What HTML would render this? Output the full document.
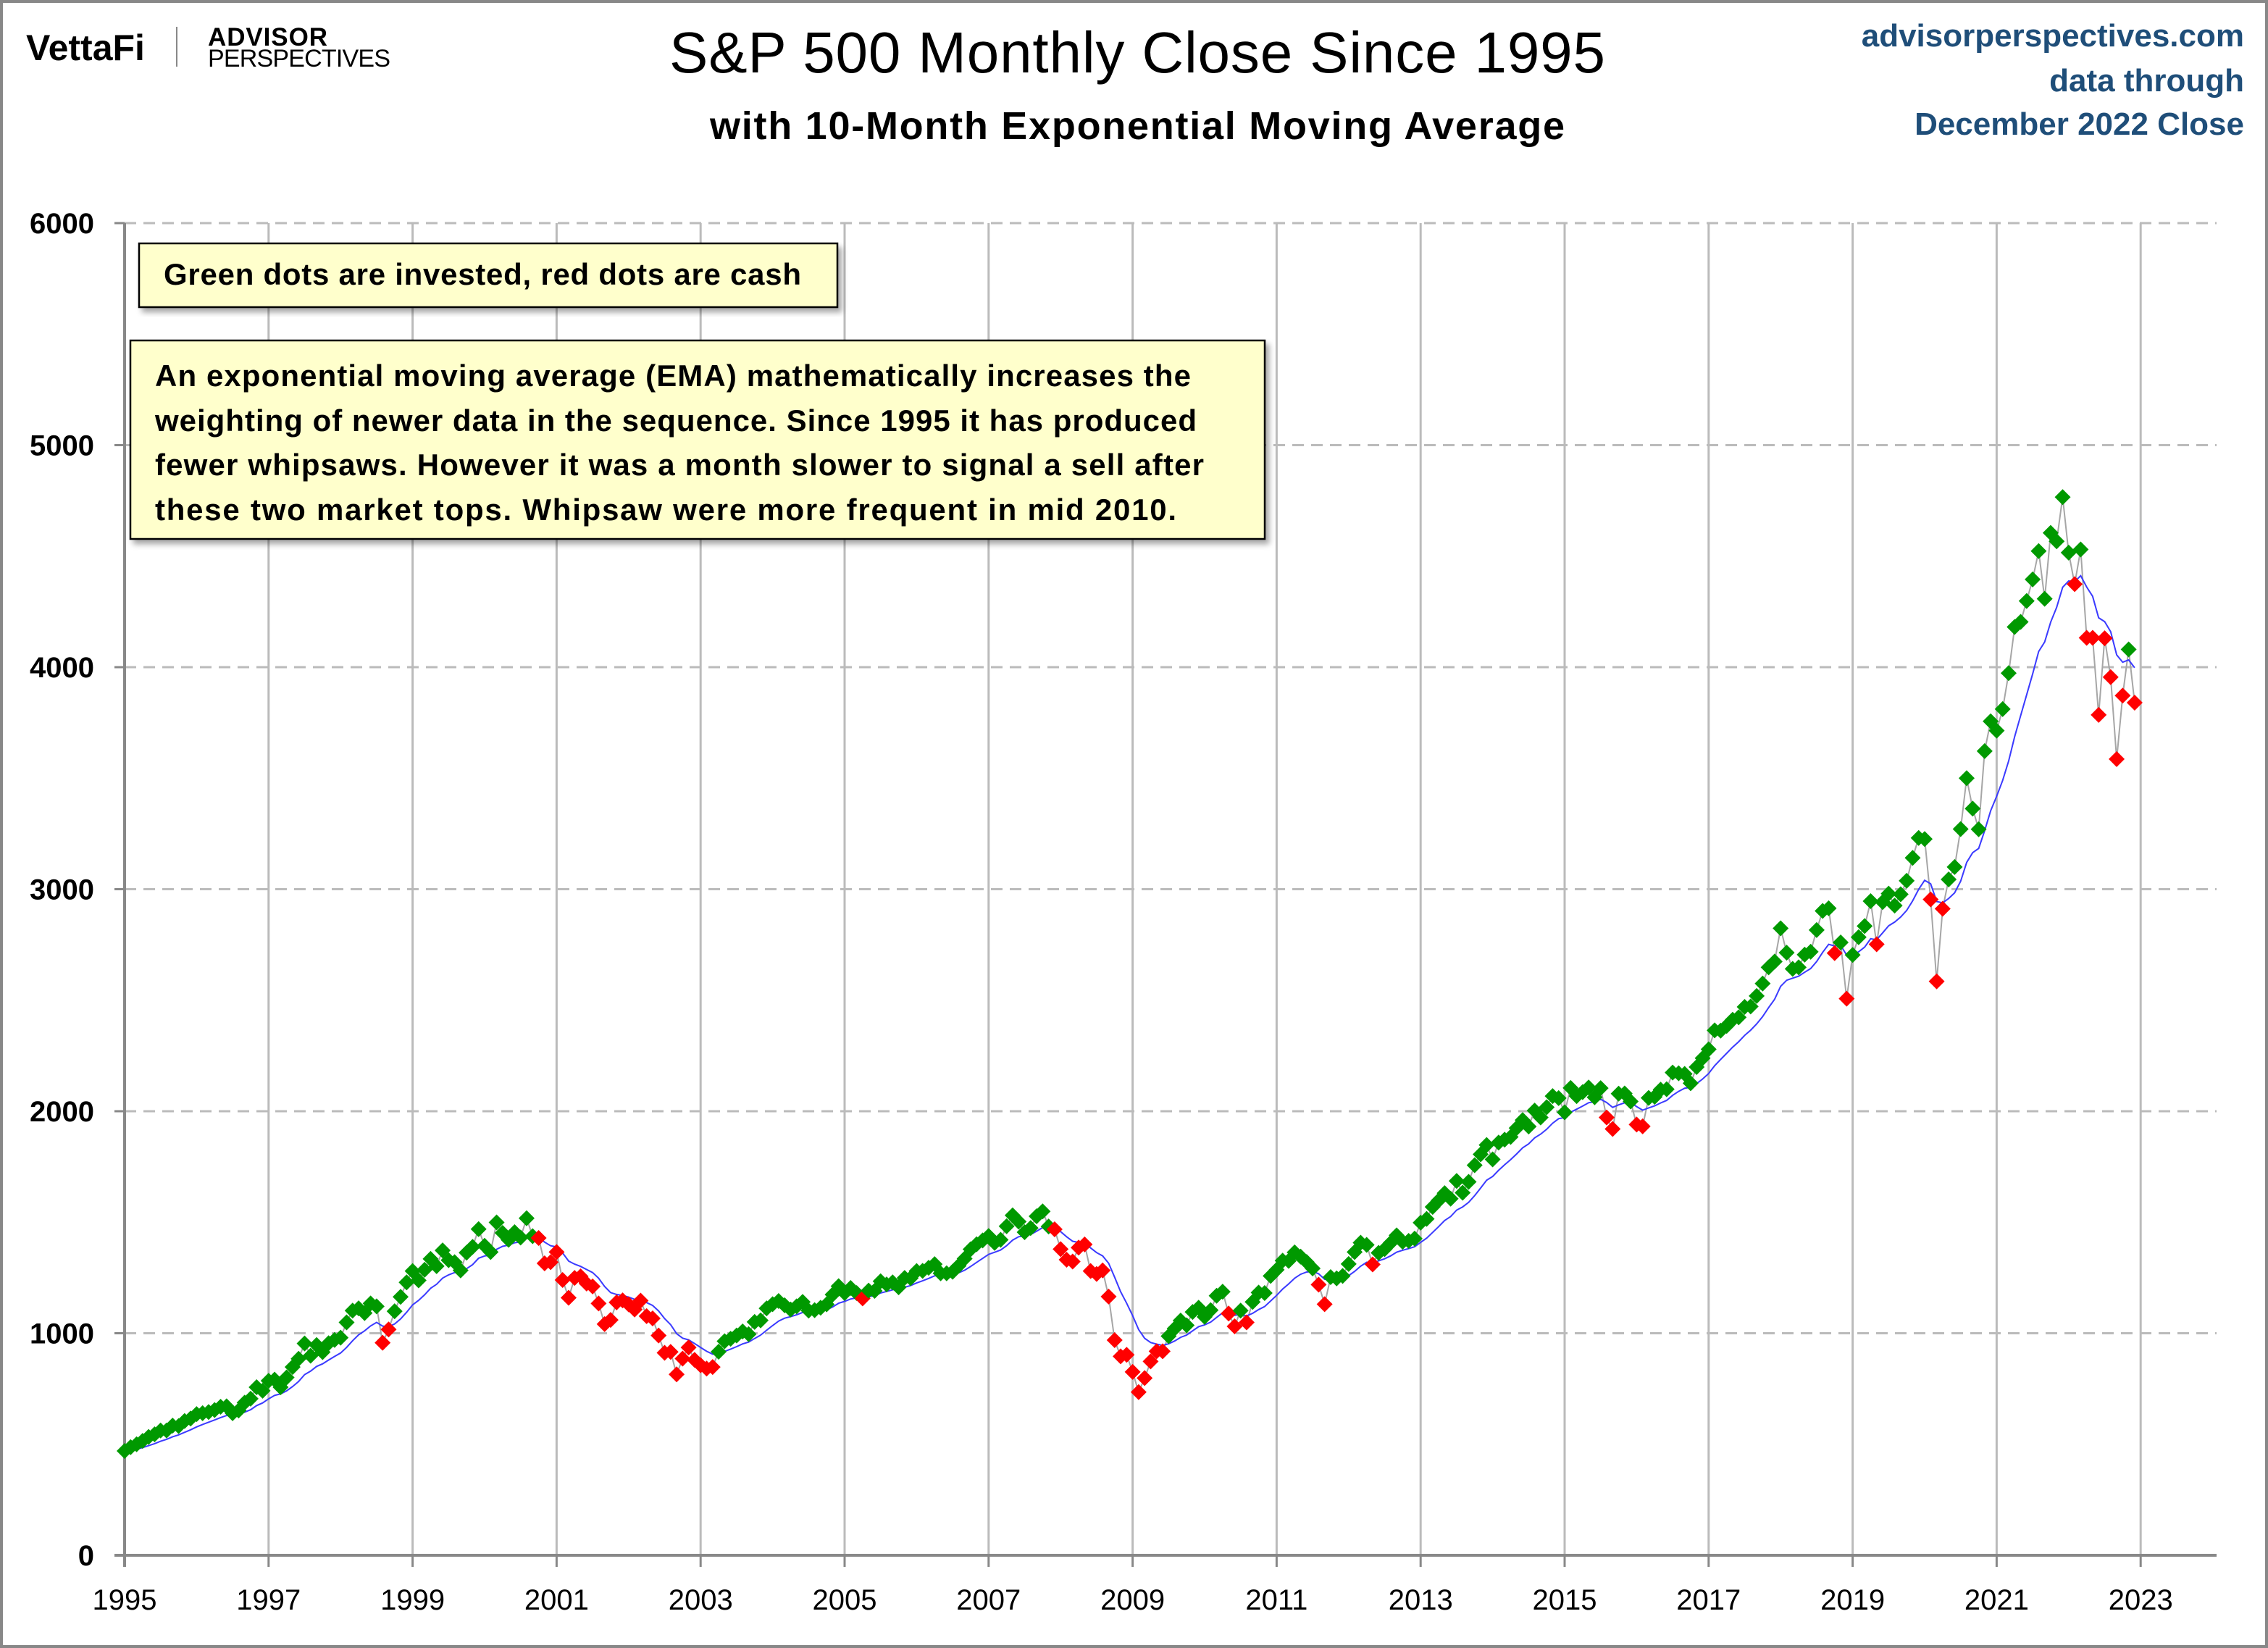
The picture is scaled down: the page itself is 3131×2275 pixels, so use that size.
<!DOCTYPE html>
<html><head><meta charset="utf-8"><style>
html,body{margin:0;padding:0;background:#fff}
svg{display:block}
text{font-family:"Liberation Sans",sans-serif}
</style></head><body>
<svg id="chart" width="3131" height="2275" viewBox="0 0 3131 2275">
<defs><filter id="sh" x="-5%" y="-5%" width="110%" height="120%"><feDropShadow dx="5" dy="6" stdDeviation="4" flood-color="#000" flood-opacity="0.35"/></filter></defs>
<rect x="2" y="2" width="3127" height="2271" fill="#fff" stroke="#888" stroke-width="4"/>
<g>
<text x="36" y="83" font-size="50" font-weight="bold">VettaFi</text>
<line x1="244" y1="37" x2="244" y2="92" stroke="#888" stroke-width="2"/>
<text x="287" y="63" font-size="35" font-weight="bold" textLength="165">ADVISOR</text>
<text x="287" y="92" font-size="34" textLength="252">PERSPECTIVES</text>
</g>
<text x="1570" y="100" font-size="80" text-anchor="middle" textLength="1292">S&amp;P 500 Monthly Close Since 1995</text>
<text x="1570" y="192" font-size="54" font-weight="bold" text-anchor="middle" textLength="1180">with 10-Month Exponential Moving Average</text>
<g fill="#1f4e79" font-size="44" font-weight="bold" text-anchor="end">
<text x="3098" y="64">advisorperspectives.com</text>
<text x="3098" y="126">data through</text>
<text x="3098" y="186">December 2022 Close</text>
</g>
<g id="grid"></g>
<g id="series"></g>
<g>
<rect x="192" y="336" width="964" height="88" fill="#ffffcc" stroke="#000" stroke-width="2.5" filter="url(#sh)"/>
<text x="226" y="393" font-size="42" font-weight="bold" textLength="880">Green dots are invested, red dots are cash</text>
</g>
<g font-size="42" font-weight="bold">
<rect x="180" y="470" width="1566" height="274" fill="#ffffcc" stroke="#000" stroke-width="2.5" filter="url(#sh)"/>
<text x="214" y="533" textLength="1430">An exponential moving average (EMA) mathematically increases the</text>
<text x="214" y="595" textLength="1438">weighting of newer data in the sequence. Since 1995 it has produced</text>
<text x="214" y="656" textLength="1448">fewer whipsaws. However it was a month slower to signal a sell after</text>
<text x="214" y="718" textLength="1410">these two market tops. Whipsaw were more frequent in mid  2010.</text>
</g>
</svg>
<script>
const startYear = 1995;
const yTicks = [0,1000,2000,3000,4000,5000,6000];
const xTickYears = [1995,1997,1999,2001,2003,2005,2007,2009,2011,2013,2015,2017,2019,2021,2023];
const closes1995_2002 = [470,487,500,515,533,545,562,562,584,582,605,616, 636,640,645,654,669,671,640,652,687,705,757,741, 786,791,757,801,848,885,954,899,947,915,955,970, 980,1049,1102,1112,1091,1134,1121,957,1017,1099,1164,1229, 1280,1238,1286,1335,1302,1373,1329,1320,1283,1363,1389,1469, 1394,1366,1499,1452,1421,1455,1431,1518,1437,1429,1315,1320, 1366,1240,1160,1249,1256,1224,1211,1134,1041,1060,1139,1148, 1130,1107,1147,1077,1067,990,912,916,815,886,936,880];
const closes2003_2010 = [856,841,848,917,964,975,990,1008,996,1051,1058,1112, 1131,1145,1126,1107,1121,1141,1102,1104,1115,1130,1174,1212, 1181,1204,1181,1157,1192,1191,1234,1220,1229,1207,1249,1248, 1280,1281,1295,1311,1270,1270,1277,1304,1336,1378,1401,1418, 1438,1407,1421,1482,1531,1503,1455,1474,1527,1549,1481,1468, 1379,1331,1323,1386,1400,1280,1267,1283,1165,969,896,903, 826,735,798,873,919,919,987,1021,1057,1036,1096,1115, 1074,1104,1169,1187,1089,1031,1102,1049,1141,1183,1181,1258];
const closes2011_2016 = [1286,1327,1326,1364,1345,1321,1292,1219,1131,1253,1247,1258, 1312,1366,1408,1398,1310,1362,1379,1407,1441,1412,1416,1426, 1498,1515,1569,1598,1631,1606,1686,1633,1682,1757,1806,1848, 1783,1859,1872,1884,1924,1960,1931,2003,1972,2018,2068,2059, 1995,2105,2068,2086,2107,2063,2104,1972,1920,2079,2080,2044, 1940,1932,2060,2065,2097,2099,2174,2171,2168,2126,2199,2239];
const closes2017_2022 = [2279,2364,2363,2384,2412,2423,2470,2472,2519,2575,2648,2674, 2824,2714,2641,2648,2705,2718,2816,2902,2914,2712,2760,2507, 2704,2784,2834,2946,2752,2942,2980,2926,2977,3038,3141,3231, 3226,2954,2585,2912,3044,3100,3271,3500,3363,3270,3622,3756, 3714,3811,3973,4181,4204,4298,4395,4523,4308,4605,4567,4766, 4516,4374,4530,4132,4132,3785,4130,3955,3586,3872,4080,3840];
const closes = closes1995_2002.concat(closes2003_2010, closes2011_2016, closes2017_2022);

const NS = "http://www.w3.org/2000/svg";
const X0 = 172, PX_PER_YEAR = 99.4, Y0 = 2147, PX_PER_UNIT = (2147-308)/6000, XR = 3060;
function xs(year){ return X0 + (year - startYear) * PX_PER_YEAR; }
function ys(v){ return Y0 - v * PX_PER_UNIT; }
function mk(tag, attrs, parent){ const e = document.createElementNS(NS, tag); for (const k in attrs) e.setAttribute(k, attrs[k]); parent.appendChild(e); return e; }

const grid = document.getElementById('grid');
const series = document.getElementById('series');
yTicks.forEach(v => {
  if (v > 0) {
    const l = mk('line', {x1: X0, x2: XR, y1: ys(v), y2: ys(v), stroke: '#bbb', 'stroke-width': 3, 'stroke-dasharray': '16,10'}, grid);
    
    
  }
  mk('line', {x1: X0-14, x2: X0, y1: ys(v), y2: ys(v), stroke: '#888', 'stroke-width': 3}, grid);
  const t = mk('text', {x: 130, y: ys(v)+14, 'font-size': 40, 'font-weight': 'bold', 'text-anchor': 'end'}, grid);
  t.textContent = v;
  
  
});
xTickYears.forEach(yr => {
  const x = xs(yr);
  if (yr > startYear) {
    const l = mk('line', {x1: x, x2: x, y1: ys(6000), y2: Y0, stroke: '#bbb', 'stroke-width': 3}, grid);
    
    
  }
  mk('line', {x1: x, x2: x, y1: Y0, y2: Y0+16, stroke: '#888', 'stroke-width': 3}, grid);
  const t = mk('text', {x: x, y: 2222, 'font-size': 40, 'text-anchor': 'middle'}, grid);
  t.textContent = yr;
  
  
});
const ax1 = mk('line', {x1: X0-14, x2: XR, y1: Y0, y2: Y0, stroke: '#888', 'stroke-width': 4}, grid);


const ax2 = mk('line', {x1: X0, x2: X0, y1: ys(6000), y2: Y0+16, stroke: '#888', 'stroke-width': 4}, grid);



const alpha = 2/11;
const ema = [];
closes.forEach((c,i) => { ema.push(i === 0 ? c : alpha*c + (1-alpha)*ema[i-1]); });
const pts = closes.map((c,i) => xs(startYear + i/12).toFixed(1) + ',' + ys(c).toFixed(1)).join(' ');
const closeLine = mk('polyline', {points: pts, fill: 'none', stroke: '#a6a6a6', 'stroke-width': 2}, series);


const emaPts = ema.map((c,i) => xs(startYear + i/12).toFixed(1) + ',' + ys(c).toFixed(1)).join(' ');
const emaLine = mk('polyline', {points: emaPts, fill: 'none', stroke: '#3a3aff', 'stroke-width': 2}, series);


closes.forEach((c,i) => {
  const x = xs(startYear + i/12), y = ys(c), r = 11;
  const invested = c >= ema[i];
  const d = mk('polygon', {points: `${x},${y-r} ${x+r},${y} ${x},${y+r} ${x-r},${y}`, fill: invested ? '#009900' : '#ff0000'}, series);
  
  
});
</script>
</body></html>
